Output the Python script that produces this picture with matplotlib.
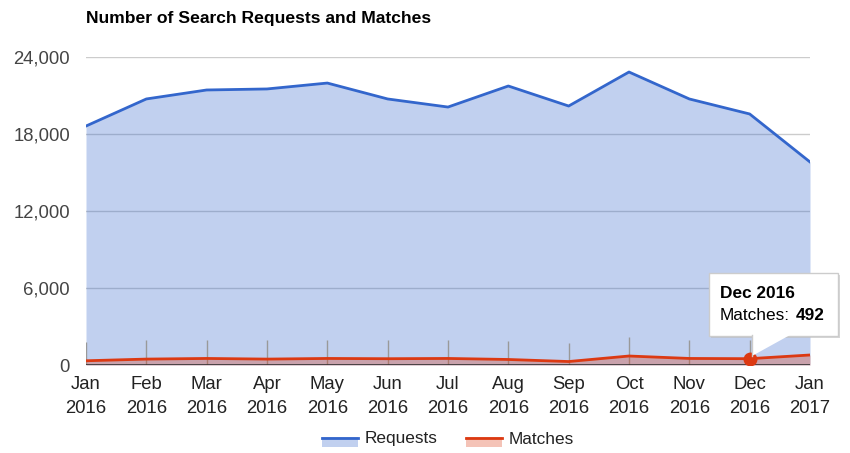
#!/usr/bin/env python3
import numpy as np
import matplotlib
matplotlib.use('Agg')
import matplotlib.pyplot as plt
from matplotlib.patches import Rectangle
from matplotlib.lines import Line2D

plt.rcParams['font.family'] = ['Liberation Sans', 'DejaVu Sans']

months = ['Jan\n2016', 'Feb\n2016', 'Mar\n2016', 'Apr\n2016', 'May\n2016', 'Jun\n2016',
          'Jul\n2016', 'Aug\n2016', 'Sep\n2016', 'Oct\n2016', 'Nov\n2016', 'Dec\n2016',
          'Jan\n2017']
requests = [18620, 20730, 21430, 21510, 21970, 20730, 20100, 21740, 20180, 22830,
            20730, 19560, 15820]
matches = [330, 460, 510, 460, 510, 490, 510, 430, 270, 700, 510, 492, 780]
yticks = [0, 6000, 12000, 18000, 24000]

BLUE = '#3366cc'
RED = '#dc3912'
W, H = 850, 453


def run():
    fig = plt.figure(figsize=(8.5, 4.53), dpi=100)
    ax = fig.add_axes([86 / W, (H - 365) / H, (810 - 86) / W, (365 - 57) / H])
    x = np.arange(len(months))

    for t in yticks[1:]:
        ax.axhline(t, color='#cccccc', lw=1, zorder=0)

    ax.fill_between(x, 0, requests, color=BLUE, alpha=0.3, lw=0, zorder=1)
    ax.plot(x, requests, color=BLUE, lw=2, zorder=3)

    # small stems above each point
    ax.vlines(x[:-1], 0, np.array(matches[:-1]) + 1450, color='#999999', lw=1, zorder=1.5)
    ax.fill_between(x, 0, matches, color=RED, alpha=0.3, lw=0, zorder=2)
    ax.plot(x, matches, color=RED, lw=2, zorder=4)
    ax.axhline(0, color='#333333', lw=1.2, zorder=5)

    sel = 11
    ax.plot(x[sel], matches[sel], 'o', color=RED, ms=9, zorder=6)

    ax.set_xlim(0, len(months) - 1)
    ax.set_ylim(0, 24000)
    ax.set_xticks(x)
    ax.set_xticklabels(months, fontsize=13.3, color='#222222', linespacing=1.52)
    ax.set_yticks(yticks)
    ax.set_yticklabels(['{:,}'.format(t) for t in yticks], fontsize=13.3, color='#444444')
    ax.tick_params(length=0)
    ax.tick_params(axis='x', pad=8)
    ax.tick_params(axis='y', pad=11.5)
    for s in ax.spines.values():
        s.set_visible(False)

    fig.text(86 / W, 1 - 19 / H, 'Number of Search Requests and Matches',
             fontsize=12.6, fontweight='bold', va='center', ha='left')

    # tooltip
    bx0, by0, bx1, by1 = 709, 273, 838, 336
    shadow = Rectangle(((bx0 + 2) / W, 1 - (by1 + 2) / H), (bx1 - bx0) / W, (by1 - by0) / H,
                       transform=fig.transFigure, facecolor='#bbbbbb', edgecolor='none',
                       alpha=0.6, zorder=9)
    box = Rectangle((bx0 / W, 1 - by1 / H), (bx1 - bx0) / W, (by1 - by0) / H,
                    transform=fig.transFigure, facecolor='white', edgecolor='#cccccc',
                    lw=1, zorder=10)
    fig.add_artist(shadow)
    fig.add_artist(box)
    tri = plt.Polygon([(752 / W, 1 - 335 / H), (790 / W, 1 - 335 / H), (752 / W, 1 - 356 / H)],
                      closed=True, transform=fig.transFigure, facecolor='white',
                      edgecolor='none', zorder=11)
    fig.add_artist(tri)
    fig.add_artist(Line2D([752 / W, 752 / W], [1 - 335 / H, 1 - 356 / H],
                          transform=fig.transFigure, color='#cccccc', lw=1, zorder=11))
    fig.text(720 / W, 1 - 293 / H, 'Dec 2016', fontsize=12.4, fontweight='bold',
             va='center', zorder=12)
    lab = fig.text(720 / W, 1 - 316 / H, 'Matches:', fontsize=12.4, va='center', zorder=12)
    fig.canvas.draw()
    ext = lab.get_window_extent()
    fig.text((ext.x1 + 6) / W, 1 - 316 / H, '492', fontsize=12.4, fontweight='bold',
             va='center', zorder=12)

    # legend
    for x0, col, label in [(322, BLUE, 'Requests'), (466, RED, 'Matches')]:
        fig.add_artist(Rectangle((x0 / W, 1 - 447 / H), 36 / W, 10 / H,
                                 transform=fig.transFigure, facecolor=col, alpha=0.3,
                                 edgecolor='none'))
        fig.add_artist(Line2D([x0 / W, (x0 + 36) / W], [1 - 438 / H, 1 - 438 / H],
                              transform=fig.transFigure, color=col, lw=2))
        fig.text((x0 + 43) / W, 1 - 439 / H, label, fontsize=12.4, va='center',
                 color='#222222')

    fig.savefig('out.png', dpi=100)


if __name__ == '__main__':
    run()
